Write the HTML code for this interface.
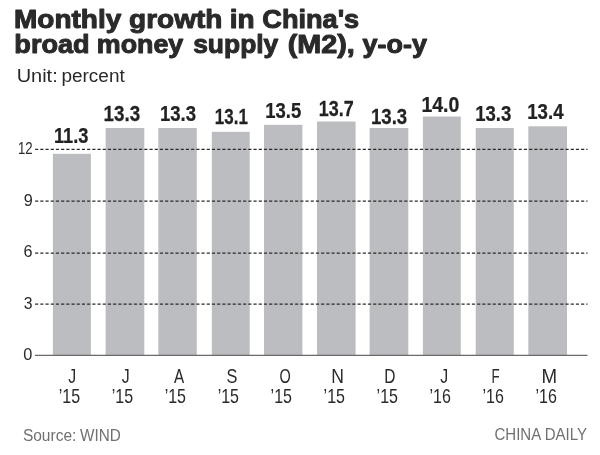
<!DOCTYPE html>
<html><head><meta charset="utf-8"><title>Monthly growth in China's broad money supply (M2), y-o-y</title>
<style>html,body{margin:0;padding:0;background:#fff}svg{display:block}text{font-family:"Liberation Sans",sans-serif}</style></head>
<body>
<svg width="600" height="455" viewBox="0 0 600 455">
<rect width="600" height="455" fill="#fff"/>
<rect x="52.9" y="153.8" width="38.0" height="201.60" fill="#bcbdc0"/>
<rect x="105.6" y="128.0" width="38.7" height="227.40" fill="#bcbdc0"/>
<rect x="158.3" y="128.0" width="38.5" height="227.40" fill="#bcbdc0"/>
<rect x="211.8" y="131.8" width="37.9" height="223.60" fill="#bcbdc0"/>
<rect x="264.0" y="124.8" width="38.4" height="230.60" fill="#bcbdc0"/>
<rect x="317.0" y="121.5" width="38.6" height="233.90" fill="#bcbdc0"/>
<rect x="369.6" y="128.0" width="38.7" height="227.40" fill="#bcbdc0"/>
<rect x="422.9" y="116.5" width="37.9" height="238.90" fill="#bcbdc0"/>
<rect x="475.7" y="128.0" width="38.1" height="227.40" fill="#bcbdc0"/>
<rect x="528.3" y="126.3" width="38.7" height="229.10" fill="#bcbdc0"/>
<line x1="35.1" y1="149.25" x2="587.5" y2="149.25" stroke="#2a2a2a" stroke-width="1.25" stroke-dasharray="3.15 2.05"/>
<line x1="35.1" y1="201.0" x2="587.5" y2="201.0" stroke="#2a2a2a" stroke-width="1.25" stroke-dasharray="3.15 2.05"/>
<line x1="35.1" y1="253.0" x2="587.5" y2="253.0" stroke="#2a2a2a" stroke-width="1.25" stroke-dasharray="3.15 2.05"/>
<line x1="35.1" y1="304.0" x2="587.5" y2="304.0" stroke="#2a2a2a" stroke-width="1.25" stroke-dasharray="3.15 2.05"/>
<line x1="35" y1="355.4" x2="587.5" y2="355.4" stroke="#6a6a6a" stroke-width="1.2"/>
<text transform="translate(14.01 27.50) scale(1.0771 1)" font-size="26" font-weight="bold" fill="#2a2a2a" stroke="#2a2a2a" stroke-width="1.0" stroke-linejoin="round">Monthly</text>
<text transform="translate(129.08 27.50) scale(1.0768 1)" font-size="26" font-weight="bold" fill="#2a2a2a" stroke="#2a2a2a" stroke-width="1.0" stroke-linejoin="round">growth</text>
<text transform="translate(229.64 27.50) scale(1.0764 1)" font-size="26" font-weight="bold" fill="#2a2a2a" stroke="#2a2a2a" stroke-width="1.0" stroke-linejoin="round">in</text>
<text transform="translate(262.31 27.50) scale(1.0436 1)" font-size="26" font-weight="bold" fill="#2a2a2a" stroke="#2a2a2a" stroke-width="1.0" stroke-linejoin="round">China's</text>
<text transform="translate(14.34 53.40) scale(1.0431 1)" font-size="26" font-weight="bold" fill="#2a2a2a" stroke="#2a2a2a" stroke-width="1.0" stroke-linejoin="round">broad</text>
<text transform="translate(96.75 53.40) scale(1.0334 1)" font-size="26" font-weight="bold" fill="#2a2a2a" stroke="#2a2a2a" stroke-width="1.0" stroke-linejoin="round">money</text>
<text transform="translate(193.18 53.40) scale(1.0164 1)" font-size="26" font-weight="bold" fill="#2a2a2a" stroke="#2a2a2a" stroke-width="1.0" stroke-linejoin="round">supply</text>
<text transform="translate(287.66 53.40) scale(1.1078 1)" font-size="26" font-weight="bold" fill="#2a2a2a" stroke="#2a2a2a" stroke-width="1.0" stroke-linejoin="round">(M2),</text>
<text transform="translate(362.50 53.40) scale(1.0381 1)" font-size="26" font-weight="bold" fill="#2a2a2a" stroke="#2a2a2a" stroke-width="1.0" stroke-linejoin="round">y-o-y</text>
<text transform="translate(16.65 81.50) scale(1.0855 1)" font-size="18.4" font-weight="normal" fill="#2a2a2a">Unit:</text>
<text transform="translate(61.47 81.50) scale(1.0312 1)" font-size="18.4" font-weight="normal" fill="#2a2a2a">percent</text>
<text transform="translate(18.01 154.00) scale(0.8460 1)" font-size="15.6" font-weight="normal" fill="#2a2a2a">12</text>
<text transform="translate(23.73 205.70) scale(1.0395 1)" font-size="15.6" font-weight="normal" fill="#2a2a2a">9</text>
<text transform="translate(23.49 256.80) scale(1.0395 1)" font-size="15.6" font-weight="normal" fill="#2a2a2a">6</text>
<text transform="translate(23.81 308.70) scale(1.0121 1)" font-size="15.6" font-weight="normal" fill="#2a2a2a">3</text>
<text transform="translate(23.25 359.80) scale(1.0471 1)" font-size="15.6" font-weight="normal" fill="#2a2a2a">0</text>
<text transform="translate(53.98 142.50) scale(0.8282 1)" font-size="22.0" font-weight="bold" fill="#222" stroke="#222" stroke-width="0.25" stroke-linejoin="round">11.3</text>
<text transform="translate(103.54 120.80) scale(0.8552 1)" font-size="22.0" font-weight="bold" fill="#222" stroke="#222" stroke-width="0.25" stroke-linejoin="round">13.3</text>
<text transform="translate(159.96 120.80) scale(0.8429 1)" font-size="22.0" font-weight="bold" fill="#222" stroke="#222" stroke-width="0.25" stroke-linejoin="round">13.3</text>
<text transform="translate(214.86 124.30) scale(0.7709 1)" font-size="22.0" font-weight="bold" fill="#222" stroke="#222" stroke-width="0.25" stroke-linejoin="round">13.1</text>
<text transform="translate(265.27 118.10) scale(0.8395 1)" font-size="22.0" font-weight="bold" fill="#222" stroke="#222" stroke-width="0.25" stroke-linejoin="round">13.5</text>
<text transform="translate(318.70 116.00) scale(0.8167 1)" font-size="22.0" font-weight="bold" fill="#222" stroke="#222" stroke-width="0.25" stroke-linejoin="round">13.7</text>
<text transform="translate(370.95 123.90) scale(0.8478 1)" font-size="22.0" font-weight="bold" fill="#222" stroke="#222" stroke-width="0.25" stroke-linejoin="round">13.3</text>
<text transform="translate(421.40 111.60) scale(0.8871 1)" font-size="22.0" font-weight="bold" fill="#222" stroke="#222" stroke-width="0.25" stroke-linejoin="round">14.0</text>
<text transform="translate(475.26 121.10) scale(0.8429 1)" font-size="22.0" font-weight="bold" fill="#222" stroke="#222" stroke-width="0.25" stroke-linejoin="round">13.3</text>
<text transform="translate(527.26 118.50) scale(0.8464 1)" font-size="22.0" font-weight="bold" fill="#222" stroke="#222" stroke-width="0.25" stroke-linejoin="round">13.4</text>
<text transform="translate(68.16 382.70) scale(0.7927 1)" font-size="20" font-weight="normal" fill="#2a2a2a">J</text>
<text transform="translate(58.70 402.80) scale(0.8008 1)" font-size="20" font-weight="normal" fill="#2a2a2a">’15</text>
<text transform="translate(121.76 382.70) scale(0.7927 1)" font-size="20" font-weight="normal" fill="#2a2a2a">J</text>
<text transform="translate(111.68 402.80) scale(0.8008 1)" font-size="20" font-weight="normal" fill="#2a2a2a">’15</text>
<text transform="translate(173.96 382.70) scale(0.7623 1)" font-size="20" font-weight="normal" fill="#2a2a2a">A</text>
<text transform="translate(164.66 402.80) scale(0.8008 1)" font-size="20" font-weight="normal" fill="#2a2a2a">’15</text>
<text transform="translate(226.56 382.70) scale(0.8174 1)" font-size="20" font-weight="normal" fill="#2a2a2a">S</text>
<text transform="translate(217.64 402.80) scale(0.8008 1)" font-size="20" font-weight="normal" fill="#2a2a2a">’15</text>
<text transform="translate(279.41 382.70) scale(0.7253 1)" font-size="20" font-weight="normal" fill="#2a2a2a">O</text>
<text transform="translate(270.62 402.80) scale(0.8008 1)" font-size="20" font-weight="normal" fill="#2a2a2a">’15</text>
<text transform="translate(331.25 382.70) scale(0.8789 1)" font-size="20" font-weight="normal" fill="#2a2a2a">N</text>
<text transform="translate(323.60 402.80) scale(0.8008 1)" font-size="20" font-weight="normal" fill="#2a2a2a">’15</text>
<text transform="translate(384.32 382.70) scale(0.7764 1)" font-size="20" font-weight="normal" fill="#2a2a2a">D</text>
<text transform="translate(376.58 402.80) scale(0.8008 1)" font-size="20" font-weight="normal" fill="#2a2a2a">’15</text>
<text transform="translate(440.16 382.70) scale(0.7927 1)" font-size="20" font-weight="normal" fill="#2a2a2a">J</text>
<text transform="translate(429.56 402.80) scale(0.8024 1)" font-size="20" font-weight="normal" fill="#2a2a2a">’16</text>
<text transform="translate(491.40 382.70) scale(0.6667 1)" font-size="20" font-weight="normal" fill="#2a2a2a">F</text>
<text transform="translate(482.54 402.80) scale(0.8024 1)" font-size="20" font-weight="normal" fill="#2a2a2a">’16</text>
<text transform="translate(541.46 382.70) scale(0.9363 1)" font-size="20" font-weight="normal" fill="#2a2a2a">M</text>
<text transform="translate(535.52 402.80) scale(0.8024 1)" font-size="20" font-weight="normal" fill="#2a2a2a">’16</text>
<text transform="translate(22.90 440.60) scale(0.9243 1)" font-size="16.8" font-weight="normal" fill="#707070">Source:</text>
<text transform="translate(80.12 440.60) scale(0.9105 1)" font-size="16.8" font-weight="normal" fill="#707070">WIND</text>
<text transform="translate(494.45 440.40) scale(0.8971 1)" font-size="16.8" font-weight="normal" fill="#707070">CHINA DAILY</text>
</svg>
</body></html>
